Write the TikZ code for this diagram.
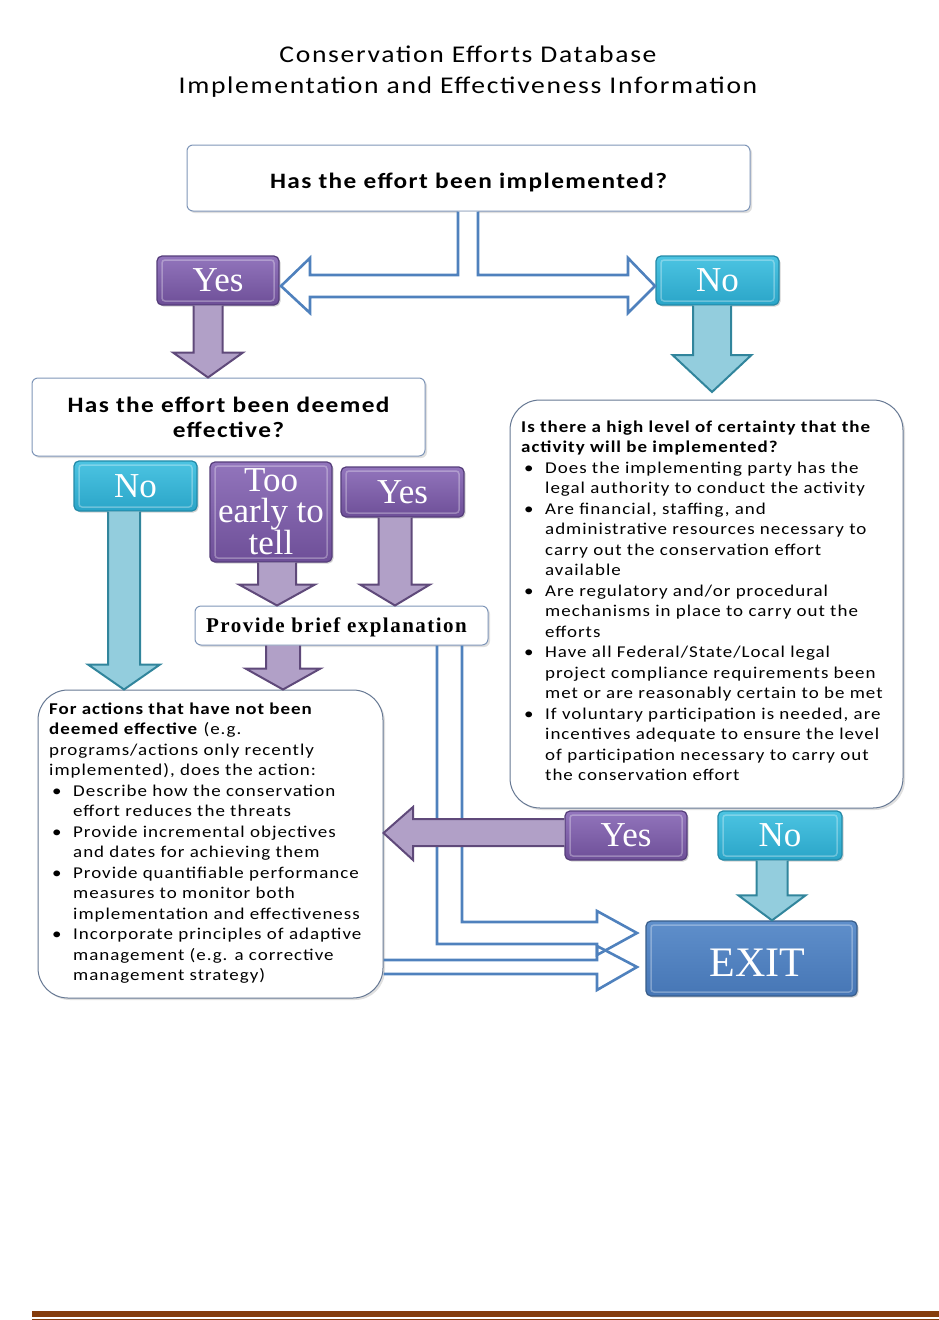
\documentclass[tikz,border=0pt]{standalone}
\usepackage{fontspec}
\setmainfont{Carlito}
\newfontfamily\bodyfont[FakeStretch=1.15,LetterSpace=6]{Carlito}
\newfontfamily\headfont[FakeStretch=1.15,LetterSpace=6.4]{Carlito}
\newfontfamily\titlefont[FakeStretch=1.15,LetterSpace=7]{Carlito}
\newfontfamily\seriffont{Liberation Serif}
\usetikzlibrary{calc,shadows}
\definecolor{ptop}{HTML}{9275BC}
\definecolor{pbot}{HTML}{6E4F98}
\definecolor{pdraw}{HTML}{553D7A}
\definecolor{ttop}{HTML}{4CC4E2}
\definecolor{tbot}{HTML}{2AA5C8}
\definecolor{tdraw}{HTML}{238AA8}
\definecolor{etop}{HTML}{5F8FCB}
\definecolor{ebot}{HTML}{4676B5}
\definecolor{edraw}{HTML}{385D8A}
\definecolor{parrow}{HTML}{B1A0C7}
\definecolor{parrowd}{HTML}{5F497A}
\definecolor{tarrow}{HTML}{93CDDD}
\definecolor{tarrowd}{HTML}{31859C}
\definecolor{conn}{HTML}{4F81BD}
\definecolor{wdraw}{HTML}{7F96B8}
\definecolor{rule}{HTML}{843C0C}
\tikzset{
  btn/.style={rounded corners=5pt, line width=1.2pt, inner sep=0pt, text=white,
    font=\seriffont\fontsize{35}{31}\selectfont, align=center,
    drop shadow={opacity=0.35, shadow xshift=1.5pt, shadow yshift=-1.5pt},
    path picture={\draw[white, opacity=0.3, line width=1.5pt, rounded corners=3pt]
      ($(path picture bounding box.south west)+(5,-4)$) rectangle
      ($(path picture bounding box.north east)+(-5,4)$);}},
  pbtn/.style={btn, draw=pdraw, top color=ptop, bottom color=pbot},
  tbtn/.style={btn, draw=tdraw, top color=ttop, bottom color=tbot},
  ebtn/.style={btn, draw=edraw, top color=etop, bottom color=ebot},
  wbox/.style={draw=wdraw, line width=1pt, fill=white, rounded corners=6pt, inner sep=0pt,
    drop shadow={opacity=0.25, shadow xshift=2pt, shadow yshift=-2pt}},
  bigbox/.style={wbox, rounded corners=30pt, draw=wdraw!80!black},
  parr/.style={draw=parrowd, fill=parrow, line width=2pt, line join=miter},
  tarr/.style={draw=tarrowd, fill=tarrow, line width=2pt, line join=miter},
  hollow/.style={draw=conn, line width=2.6pt, line join=miter},
  bodytext/.style={anchor=north west, inner sep=0pt, align=left,
    font=\bodyfont\fontsize{16.5}{20.5}\selectfont},
}
\newcommand\bul{\hspace*{3pt}\makebox[21pt][l]{\textbullet}}
\newcommand\ind{\hspace*{24pt}}
% vertical block arrow: style, start, tip, shaft half, head half, head length
\newcommand\vblock[6]{\draw[#1] let \p1=(#2), \p2=(#3) in
  (\x1-#4,\y1) -- (\x1-#4,\y2+#6) -- (\x1-#5,\y2+#6) -- (\x1,\y2) --
  (\x1+#5,\y2+#6) -- (\x1+#4,\y2+#6) -- (\x1+#4,\y1);}
\begin{document}
\begin{tikzpicture}[x=1pt,y=-1pt]
\useasboundingbox (0,0) rectangle (939,1320);
% title
\node[align=center, font=\titlefont\fontsize{24}{31}\selectfont] (title) at (468,71.5)
  {Conservation Efforts Database\\Implementation and Effectiveness Information};
% boxes
\node[wbox, minimum width=563pt, minimum height=66pt, text height=20pt, text depth=0pt, font=\headfont\bfseries\fontsize{22}{24}\selectfont] (q1) at (468.5,178) {Has the effort been implemented?};
\node[pbtn, minimum width=122pt, minimum height=49pt] (yes1) at (218,280.5) {Yes};
\node[tbtn, minimum width=123pt, minimum height=49pt] (no1) at (717.5,280.5) {No};
\node[wbox, minimum width=393pt, minimum height=78pt, align=center, font=\headfont\bfseries\fontsize{22}{25}\selectfont] (deem) at (228.5,417) {Has the effort been deemed\\effective?};
\node[bigbox, minimum width=393pt, minimum height=408pt] (rbox) at (706.5,604) {};
\node[tbtn, minimum width=123pt, minimum height=50pt] (no2) at (135.5,486) {No};
\node[pbtn, minimum width=122pt, minimum height=100pt, font=\seriffont\fontsize{35}{30.5}\selectfont] (early) at (271,512) {Too\\early to\\tell};
\node[pbtn, minimum width=123pt, minimum height=50pt] (yes2) at (402.5,492) {Yes};
\node[wbox, minimum width=293pt, minimum height=39pt, text height=14pt, text depth=0pt, font=\seriffont\bfseries\fontsize{21}{24}\selectfont] (prov) at (341.5,625.5) {\addfontfeature{LetterSpace=7}Provide brief explanation\hspace*{10pt}};
\node[bigbox, minimum width=345pt, minimum height=308pt] (lbox) at (210.5,844) {};
\node[pbtn, minimum width=122pt, minimum height=49pt] (yes3) at (626,835.5) {Yes};
\node[tbtn, minimum width=124pt, minimum height=49pt] (no3) at (780,835.5) {No};
\node[ebtn, minimum width=211pt, minimum height=75pt, text height=36pt, text depth=0pt, font=\seriffont\fontsize{42}{44}\selectfont] (exit) at (751.5,958.5) {\hspace*{12pt}EXIT};
% texts
\node[bodytext] (rtext) at (521,420.5) {%
\textbf{Is there a high level of certainty that the}\\
\textbf{activity will be implemented?}\\
\bul Does the implementing party has the\\
\ind legal authority to conduct the activity\\
\bul Are financial, staffing, and\\
\ind administrative resources necessary to\\
\ind carry out the conservation effort\\
\ind available\\
\bul Are regulatory and/or procedural\\
\ind mechanisms in place to carry out the\\
\ind efforts\\
\bul Have all Federal/State/Local legal\\
\ind project compliance requirements been\\
\ind met or are reasonably certain to be met\\
\bul If voluntary participation is needed, are\\
\ind incentives adequate to ensure the level\\
\ind of participation necessary to carry out\\
\ind the conservation effort};
\node[bodytext] (ltext) at (49,702.5) {%
\textbf{For actions that have not been}\\
\textbf{deemed effective} (e.g.\\
programs/actions only recently\\
implemented), does the action:\\
\bul Describe how the conservation\\
\ind effort reduces the threats\\
\bul Provide incremental objectives\\
\ind and dates for achieving them\\
\bul Provide quantifiable performance\\
\ind measures to monitor both\\
\ind implementation and effectiveness\\
\bul Incorporate principles of adaptive\\
\ind management (e.g. a corrective\\
\ind management strategy)};
% hollow connectors
\draw[hollow, fill=white] (458,0 |- q1.south) -- (458,275) -- (310,275) -- (310,258) -- (281,286) -- (310,313) -- (310,297) -- (628,297) -- (628,313) -- (655,286) -- (628,258) -- (628,275) -- (478,275) -- (478,0 |- q1.south);
\draw[hollow] (437,0 |- prov.south) -- (437,944) -- (597,944) -- (597,955) -- (637,933) -- (597,911) -- (597,922) -- (462,922) -- (462,0 |- prov.south);
\draw[hollow] (lbox.east |- 0,960) -- (597,960) -- (597,946) -- (637,967) -- (597,990) -- (597,974) -- (lbox.east |- 0,974);
% block arrows
\vblock{parr}{208,0 |- yes1.south}{208,0 |- deem.north}{14.5}{35}{25}
\vblock{tarr}{712,0 |- no1.south}{712,392}{19}{39.5}{37}
\vblock{tarr}{124,0 |- no2.south}{124,0 |- lbox.north}{16}{36}{25}
\vblock{parr}{277,0 |- early.south}{277,0 |- prov.north}{19}{38}{21}
\vblock{parr}{395,0 |- yes2.south}{395,0 |- prov.north}{16.5}{35}{21}
\vblock{parr}{283,0 |- prov.south}{283,0 |- lbox.north}{17}{37.5}{21}
\vblock{tarr}{772,0 |- no3.south}{772,0 |- exit.north}{15.5}{33.5}{25}
\draw[parr] (yes3.west |- 0,819) -- (413,819) -- (413,807) -- (lbox.east |- 0,833) -- (413,860) -- (413,846) -- (yes3.west |- 0,846);
% bottom rule
\fill[rule] (32,1311) rectangle (939,1317);
\fill[rule] (32,1318.5) rectangle (939,1320);
\end{tikzpicture}
\end{document}
